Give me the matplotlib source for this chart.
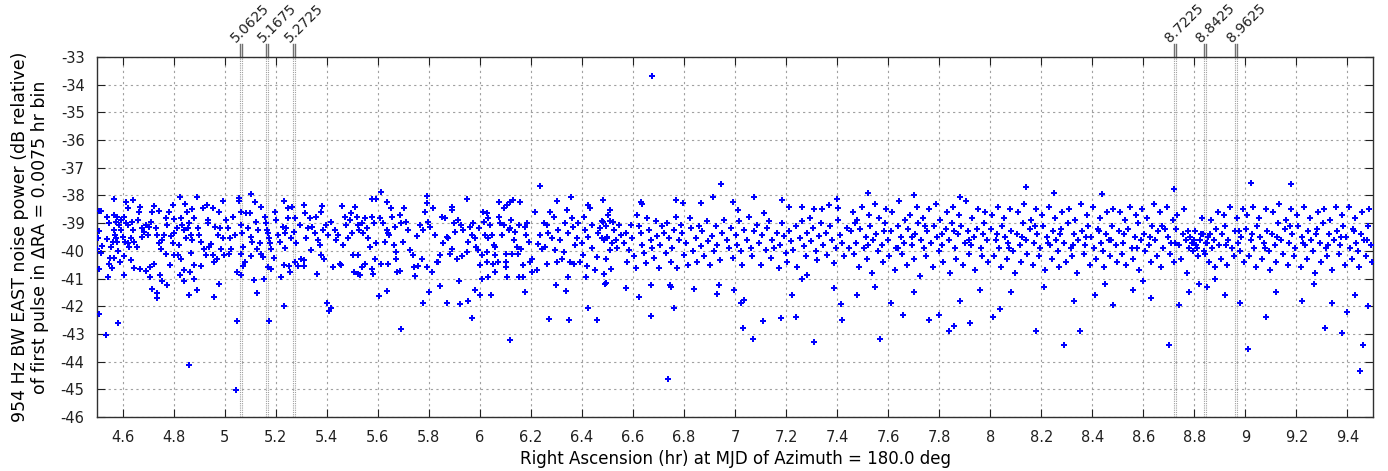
import matplotlib.pyplot as plt
import numpy as np

plt.rcParams['font.family'] = ['DejaVu Sans']
plt.rcParams['axes.unicode_minus'] = False

# marked RA values at the top of the plot (centre of a 0.0075 hr bin)
marker_ra = [5.0625, 5.1675, 5.2725, 8.7225, 8.8425, 8.9625]
bin_width = 0.0075

# (RA hr, dB) points, grouped by half-hour strip
seg_4_5 = [
    (4.567, -38.11), (4.612, -38.23), (4.643, -38.17), (4.620, -38.45), (4.669, -38.41),
    (4.722, -38.39), (4.741, -38.55), (4.796, -38.35), (4.825, -38.07), (4.844, -38.31),
    (4.890, -38.05), (4.871, -38.49), (4.914, -38.45), (4.931, -38.35), (4.953, -38.47),
    (4.995, -38.20), (4.491, -38.55), (4.507, -38.55), (4.515, -38.55), (4.541, -38.77),
    (4.546, -38.99), (4.565, -38.71), (4.507, -39.29), (4.504, -39.53), (4.541, -39.58),
    (4.521, -39.82), (4.554, -39.86), (4.499, -39.94), (4.515, -40.06), (4.552, -40.25),
    (4.567, -40.25), (4.548, -40.46), (4.557, -40.61), (4.509, -40.66), (4.545, -40.96),
    (4.567, -39.25), (4.570, -39.43), (4.574, -38.95), (4.561, -39.67), (4.580, -38.77),
    (4.593, -38.89), (4.587, -39.07), (4.593, -39.25), (4.607, -38.77), (4.614, -39.01),
    (4.620, -39.07), (4.600, -39.49), (4.609, -39.67), (4.620, -39.73), (4.633, -39.55),
    (4.626, -39.86), (4.607, -40.18), (4.604, -40.88), (4.591, -40.42), (4.633, -40.34),
    (4.646, -40.61), (4.646, -39.67), (4.639, -38.95), (4.643, -39.25), (4.580, -39.67),
    (4.583, -40.01), (4.574, -39.55), (4.659, -38.89), (4.665, -38.59), (4.678, -39.19),
    (4.685, -39.31), (4.691, -39.07), (4.698, -39.43), (4.678, -39.49), (4.711, -38.95),
    (4.704, -39.13), (4.717, -38.59), (4.669, -40.64), (4.691, -40.73), (4.708, -40.58),
    (4.724, -40.49), (4.717, -41.39), (4.735, -41.54), (4.737, -41.72), (4.708, -40.96),
    (4.656, -39.86), (4.731, -39.19), (4.737, -39.43), (4.744, -39.73), (4.750, -39.92),
    (4.756, -39.61), (4.763, -39.43), (4.770, -38.83), (4.776, -39.07), (4.783, -38.61),
    (4.789, -39.46), (4.803, -39.37), (4.796, -39.73), (4.770, -40.10), (4.787, -40.52),
    (4.774, -41.24), (4.756, -41.10), (4.745, -40.88), (4.801, -38.86), (4.803, -40.16),
    (4.816, -40.16), (4.814, -39.19), (4.822, -39.80), (4.829, -38.83), (4.835, -39.07),
    (4.842, -39.25), (4.848, -39.55), (4.857, -39.19), (4.861, -39.01), (4.868, -39.43),
    (4.874, -39.61), (4.881, -38.81), (4.831, -40.28), (4.839, -40.70), (4.826, -40.88),
    (4.842, -41.10), (4.859, -41.58), (4.861, -44.12), (4.879, -40.52), (4.866, -40.76),
    (4.881, -41.02), (4.868, -40.06), (4.852, -38.59), (4.894, -39.19), (4.900, -39.43),
    (4.907, -39.67), (4.892, -41.41), (4.909, -40.54), (4.920, -39.92), (4.926, -40.16),
    (4.933, -38.89), (4.939, -39.86), (4.946, -39.77), (4.953, -40.16), (4.959, -41.66),
    (4.962, -39.13), (4.970, -40.28), (4.978, -41.19), (4.979, -38.59), (4.983, -39.19),
    (4.987, -39.92), (4.993, -39.55), (4.997, -40.16), (4.974, -39.43), (4.957, -40.42),
    (4.935, -39.01), (4.508, -42.29), (4.584, -42.60), (4.537, -43.05),
]

seg_5_0 = [
    (5.043, -45.01), (5.048, -42.54), (5.174, -42.54), (5.127, -41.54), (5.115, -41.06),
    (5.154, -41.00), (5.233, -42.00), (5.403, -41.87), (5.408, -42.17), (5.418, -42.05),
    (5.222, -40.94), (5.050, -40.76), (5.065, -40.86), (5.363, -40.84), (5.055, -38.08),
    (5.058, -38.20), (5.105, -37.93), (5.120, -38.23), (5.144, -38.41), (5.233, -38.19),
    (5.248, -38.47), (5.265, -38.41), (5.311, -38.35), (5.382, -38.37), (5.376, -38.59),
    (5.460, -38.39), (5.497, -38.65), (5.007, -38.89), (5.013, -39.19), (5.020, -39.55),
    (5.024, -39.92), (5.016, -40.13), (5.033, -38.77), (5.039, -39.43), (5.063, -38.59),
    (5.065, -39.07), (5.068, -39.37), (5.072, -39.86), (5.063, -40.13), (5.078, -40.40),
    (5.072, -40.54), (5.085, -38.65), (5.098, -38.65), (5.092, -39.19), (5.102, -39.49),
    (5.107, -39.67), (5.105, -40.18), (5.124, -38.95), (5.131, -39.25), (5.137, -39.73),
    (5.128, -39.92), (5.144, -40.10), (5.150, -40.22), (5.157, -38.77), (5.163, -39.01),
    (5.167, -39.25), (5.170, -39.37), (5.173, -39.55), (5.176, -39.73), (5.170, -40.58),
    (5.180, -40.64), (5.183, -39.92), (5.193, -40.25), (5.196, -38.59), (5.203, -38.89),
    (5.209, -39.43), (5.216, -39.67), (5.229, -39.13), (5.235, -39.37), (5.235, -39.89),
    (5.242, -39.19), (5.233, -40.52), (5.251, -40.54), (5.255, -40.76), (5.248, -38.81),
    (5.261, -39.55), (5.272, -39.31), (5.277, -38.83), (5.281, -39.73), (5.275, -40.40),
    (5.288, -40.54), (5.298, -40.30), (5.311, -40.34), (5.311, -40.54), (5.294, -39.07),
    (5.314, -38.65), (5.320, -39.55), (5.327, -39.19), (5.333, -38.83), (5.337, -39.98),
    (5.342, -39.13), (5.353, -39.37), (5.359, -38.77), (5.366, -39.61), (5.373, -39.80),
    (5.376, -40.16), (5.390, -40.28), (5.386, -39.25), (5.399, -39.07), (5.405, -39.43),
    (5.418, -38.95), (5.425, -40.58), (5.431, -39.25), (5.438, -39.61), (5.444, -39.43),
    (5.451, -40.46), (5.458, -40.52), (5.464, -39.80), (5.471, -38.77), (5.477, -39.07),
    (5.484, -39.55), (5.490, -38.89), (5.499, -39.37), (5.503, -40.16), (5.507, -40.76),
]

seg_5_5 = [
    (5.692, -42.81), (5.605, -41.63), (5.638, -41.45), (5.779, -41.88), (5.801, -41.48),
    (5.846, -41.28), (5.873, -41.88), (5.920, -41.10), (5.921, -41.93), (5.953, -41.81),
    (5.969, -42.42), (5.982, -41.42), (6.001, -41.58), (6.010, -41.00), (5.613, -37.88),
    (5.592, -38.11), (5.576, -38.13), (5.637, -38.23), (5.795, -38.01), (5.795, -38.29),
    (5.949, -38.13), (5.890, -38.53), (5.893, -38.41), (5.511, -38.41), (5.518, -38.77),
    (5.521, -39.07), (5.527, -39.25), (5.537, -39.01), (5.544, -39.37), (5.550, -38.83),
    (5.557, -39.19), (5.563, -39.55), (5.570, -39.86), (5.524, -40.16), (5.530, -40.88),
    (5.521, -40.82), (5.550, -40.46), (5.540, -40.58), (5.576, -40.64), (5.582, -40.82),
    (5.576, -38.77), (5.587, -39.01), (5.589, -40.28), (5.595, -39.73), (5.609, -38.83),
    (5.613, -40.49), (5.622, -39.01), (5.628, -39.67), (5.635, -39.25), (5.639, -39.37),
    (5.642, -40.49), (5.646, -39.43), (5.652, -38.47), (5.655, -38.77), (5.663, -39.80),
    (5.666, -39.13), (5.673, -40.04), (5.673, -40.28), (5.677, -40.76), (5.686, -40.73),
    (5.686, -38.71), (5.692, -39.01), (5.699, -39.67), (5.703, -38.47), (5.712, -38.95),
    (5.719, -39.25), (5.726, -39.98), (5.739, -40.16), (5.744, -40.58), (5.746, -40.90),
    (5.753, -39.46), (5.759, -40.54), (5.765, -39.07), (5.772, -40.28), (5.779, -39.25),
    (5.785, -38.59), (5.792, -40.58), (5.798, -38.95), (5.804, -39.13), (5.811, -40.76),
    (5.817, -38.47), (5.825, -39.43), (5.831, -40.40), (5.838, -40.40), (5.844, -40.16),
    (5.851, -38.77), (5.857, -39.73), (5.864, -38.83), (5.870, -39.49), (5.877, -39.55),
    (5.883, -40.10), (5.890, -39.92), (5.897, -39.01), (5.903, -39.31), (5.909, -40.28),
    (5.916, -38.89), (5.927, -39.07), (5.932, -40.18), (5.936, -39.25), (5.949, -40.04),
    (5.955, -39.67), (5.962, -39.13), (5.969, -39.43), (5.975, -39.01), (5.982, -39.55),
    (5.984, -39.86), (5.992, -39.98), (5.995, -39.19), (6.001, -40.52), (6.007, -40.16),
    (6.014, -38.59), (6.018, -38.95),
]

seg_6_0 = [
    (6.234, -37.66), (6.119, -43.23), (6.272, -42.45), (6.348, -42.51), (6.461, -42.51),
    (6.424, -42.05), (6.043, -41.60), (6.178, -41.48), (6.299, -41.22), (6.338, -41.45),
    (6.492, -41.19), (6.031, -40.96), (6.106, -40.96), (6.154, -40.94), (6.171, -40.94),
    (6.344, -40.94), (6.416, -40.96), (6.076, -38.23), (6.093, -38.47), (6.106, -38.35),
    (6.119, -38.23), (6.132, -38.17), (6.158, -38.23), (6.302, -38.20), (6.357, -38.05),
    (6.481, -38.17), (6.424, -38.35), (6.511, -38.53), (6.027, -38.65), (6.034, -38.83),
    (6.040, -39.07), (6.021, -39.43), (6.031, -39.55), (6.047, -39.43), (6.054, -39.80),
    (6.060, -39.86), (6.027, -40.04), (6.027, -40.40), (6.050, -40.49), (6.071, -40.40),
    (6.060, -40.16), (6.058, -40.78), (6.074, -38.77), (6.080, -39.01), (6.087, -39.43),
    (6.093, -39.07), (6.102, -40.10), (6.104, -40.40), (6.104, -40.58), (6.113, -39.25),
    (6.119, -39.19), (6.122, -38.89), (6.128, -40.10), (6.135, -39.61), (6.139, -39.31),
    (6.145, -39.86), (6.149, -40.10), (6.152, -39.07), (6.161, -39.92), (6.169, -40.52),
    (6.176, -39.13), (6.181, -39.43), (6.184, -39.01), (6.191, -39.67), (6.197, -40.40),
    (6.204, -40.28), (6.206, -40.76), (6.217, -38.59), (6.224, -40.70), (6.227, -39.77),
    (6.236, -39.43), (6.243, -39.92), (6.250, -39.01), (6.256, -39.86), (6.262, -39.07),
    (6.262, -40.49), (6.269, -39.34), (6.276, -38.59), (6.282, -39.55), (6.289, -38.77),
    (6.295, -39.98), (6.302, -40.40), (6.308, -39.25), (6.315, -39.61), (6.321, -40.28),
    (6.328, -40.04), (6.334, -39.01), (6.341, -38.53), (6.347, -39.37), (6.354, -40.40),
    (6.361, -38.83), (6.367, -39.13), (6.370, -40.46), (6.373, -39.80), (6.380, -39.55),
    (6.386, -39.01), (6.393, -40.40), (6.399, -39.73), (6.406, -40.16), (6.410, -38.77),
    (6.412, -39.25), (6.419, -40.54), (6.425, -39.49), (6.432, -38.47), (6.438, -39.07),
    (6.441, -39.89), (6.451, -40.70), (6.458, -40.22), (6.464, -39.37), (6.471, -39.19),
    (6.477, -39.55), (6.484, -38.95), (6.488, -40.82), (6.493, -40.28), (6.497, -39.49),
    (6.503, -38.71), (6.510, -39.98), (6.514, -40.64), (6.517, -39.73), (6.523, -38.95),
]

seg_6_5 = [
    (6.675, -33.70), (6.737, -44.63), (6.671, -42.35), (6.946, -37.58), (6.624, -41.67),
    (6.571, -41.35), (6.493, -41.17), (6.672, -41.23), (6.745, -41.23), (6.750, -41.31),
    (6.839, -41.39), (6.931, -41.57), (6.937, -41.25), (6.996, -41.41), (7.022, -41.89),
    (7.035, -41.77), (6.761, -42.05), (7.225, -41.59), (7.388, -41.33), (7.414, -41.93),
    (7.264, -41.02), (7.281, -40.87), (7.030, -42.80), (7.070, -43.20), (7.110, -42.55),
    (7.180, -42.43), (7.240, -42.40), (7.310, -43.30), (7.420, -42.50),
    (6.484, -38.16), (6.630, -38.22), (6.637, -38.30), (6.768, -38.16), (6.798, -38.28),
    (6.868, -38.28), (6.915, -38.04), (6.993, -38.22), (7.012, -38.54), (7.075, -38.04),
    (7.186, -38.18), (7.212, -38.43), (7.264, -38.40), (7.310, -38.49), (7.342, -38.48),
    (7.370, -38.34), (7.401, -38.12), (7.404, -38.46),
    (6.480, -38.94), (6.493, -39.12), (6.499, -39.54), (6.487, -39.60), (6.512, -38.94),
    (6.525, -39.24), (6.532, -39.60), (6.539, -39.90), (6.545, -39.06), (6.552, -39.42),
    (6.565, -39.72), (6.571, -39.36), (6.575, -40.39), (6.584, -39.96), (6.591, -39.06),
    (6.597, -39.54), (6.604, -40.20), (6.611, -40.63), (6.617, -38.70), (6.624, -39.12),
    (6.630, -39.36), (6.637, -39.78), (6.643, -40.08), (6.650, -40.45), (6.656, -38.82),
    (6.663, -39.24), (6.669, -39.60), (6.676, -39.90), (6.682, -40.27), (6.689, -38.94),
    (6.695, -39.48), (6.702, -40.63), (6.708, -39.78), (6.715, -39.12), (6.722, -39.36),
    (6.728, -40.08), (6.735, -39.00), (6.741, -39.54), (6.748, -40.39), (6.754, -39.90),
    (6.761, -39.24), (6.768, -38.76), (6.774, -40.63), (6.781, -39.60), (6.787, -39.06),
    (6.794, -39.36), (6.800, -40.14), (6.807, -39.72), (6.816, -40.51), (6.824, -38.82),
    (6.829, -39.18), (6.837, -40.02), (6.846, -39.54), (6.853, -40.39), (6.859, -39.12),
    (6.866, -39.84), (6.872, -39.30), (6.879, -40.20), (6.889, -38.94), (6.894, -39.66),
    (6.902, -40.51), (6.911, -39.48), (6.918, -40.02), (6.924, -39.12), (6.931, -39.78),
    (6.941, -40.33), (6.950, -39.36), (6.957, -38.88), (6.967, -39.60), (6.976, -39.90),
    (6.983, -39.18), (6.993, -40.27), (7.002, -39.42), (7.009, -39.78), (7.015, -38.94),
    (7.022, -40.02), (7.029, -40.51), (7.035, -39.24), (7.046, -39.60), (7.055, -38.76),
    (7.061, -39.90), (7.068, -40.20), (7.075, -39.30), (7.085, -39.06), (7.094, -39.72),
    (7.101, -40.51), (7.107, -39.42), (7.114, -38.64), (7.120, -39.96), (7.127, -39.18),
    (7.133, -38.94), (7.140, -40.27), (7.146, -39.60), (7.153, -39.90), (7.163, -39.36),
    (7.172, -40.63), (7.178, -39.78), (7.186, -39.00), (7.192, -39.48), (7.199, -40.08),
    (7.205, -40.39), (7.212, -39.30), (7.218, -39.66), (7.229, -39.96), (7.238, -39.12),
    (7.244, -40.57), (7.255, -39.54), (7.264, -38.94), (7.270, -39.84), (7.277, -40.20),
    (7.284, -39.36), (7.294, -38.82), (7.299, -39.66), (7.307, -39.18), (7.316, -40.02),
    (7.323, -40.33), (7.329, -39.48), (7.336, -39.00), (7.346, -39.78), (7.355, -39.36),
    (7.362, -40.14), (7.372, -39.12), (7.381, -39.60), (7.388, -40.45), (7.395, -39.90),
    (7.404, -38.88), (7.412, -39.42), (7.421, -39.72), (7.427, -40.20), (7.438, -39.18),
    (7.448, -39.90),
]

seg_7_5 = [
    (7.455, -39.3), (7.462, -38.6), (7.466, -40.1), (7.474, -39.7), (7.479, -38.9),
    (7.487, -40.6), (7.491, -39.2), (7.499, -38.4), (7.504, -39.9), (7.512, -39.5),
    (7.516, -40.3), (7.525, -38.7), (7.529, -39.1), (7.537, -40.8), (7.541, -39.6),
    (7.550, -38.3), (7.554, -39.4), (7.562, -40.0), (7.566, -38.8), (7.575, -39.8),
    (7.579, -40.4), (7.587, -39.0), (7.591, -38.5), (7.600, -39.6), (7.604, -40.2),
    (7.612, -39.3), (7.617, -38.6), (7.625, -40.7), (7.629, -39.9), (7.637, -39.1),
    (7.642, -38.2), (7.650, -39.5), (7.654, -40.1), (7.662, -39.7), (7.667, -38.9),
    (7.675, -40.5), (7.679, -39.2), (7.687, -38.7), (7.692, -39.8), (7.700, -40.3),
    (7.704, -39.4), (7.712, -38.4), (7.717, -39.0), (7.725, -40.9), (7.729, -39.6),
    (7.737, -38.8), (7.742, -39.9), (7.750, -40.2), (7.754, -39.3), (7.762, -38.5),
    (7.767, -39.7), (7.775, -40.6), (7.779, -39.1), (7.787, -38.3), (7.792, -39.5),
    (7.800, -40.0), (7.804, -38.9), (7.812, -39.8), (7.817, -40.4), (7.825, -39.2),
    (7.829, -38.6), (7.837, -39.6), (7.842, -40.8), (7.850, -39.0), (7.854, -38.4),
    (7.862, -39.9), (7.867, -40.3), (7.875, -39.4), (7.879, -38.7), (7.887, -39.1),
    (7.892, -40.5), (7.900, -39.7), (7.904, -38.2), (7.912, -39.3), (7.917, -40.1),
    (7.925, -39.8), (7.929, -38.8), (7.937, -39.5), (7.942, -40.7), (7.950, -39.2),
    (7.954, -38.5), (7.962, -39.9), (7.967, -40.2), (7.975, -39.0), (7.979, -38.6),
    (7.987, -39.6), (7.992, -40.4), (7.470, -39.0), (7.520, -39.8), (7.585, -39.3),
    (7.640, -39.9), (7.695, -39.5), (7.745, -39.1), (7.810, -39.4), (7.860, -39.3),
    (7.915, -39.6), (7.970, -39.4),
    (7.480, -41.6), (7.550, -41.3), (7.570, -43.2), (7.610, -41.9), (7.660, -42.3),
    (7.700, -41.5), (7.760, -42.5), (7.800, -42.3), (7.840, -42.9), (7.860, -42.7),
    (7.880, -41.8), (7.920, -42.6), (7.960, -41.4), (7.520, -37.9), (7.700, -38.0),
    (7.880, -38.05),
]

seg_8_0 = [
    (8.004, -39.2), (8.008, -38.7), (8.016, -40.2), (8.021, -39.6), (8.029, -38.4),
    (8.033, -39.9), (8.041, -40.6), (8.046, -39.1), (8.054, -38.8), (8.058, -39.5),
    (8.066, -40.3), (8.071, -39.7), (8.079, -38.5), (8.083, -39.3), (8.091, -40.0),
    (8.096, -40.8), (8.104, -39.4), (8.108, -38.6), (8.116, -39.8), (8.121, -40.4),
    (8.129, -39.0), (8.133, -38.3), (8.141, -39.6), (8.146, -40.1), (8.154, -39.2),
    (8.158, -38.9), (8.166, -40.5), (8.171, -39.7), (8.179, -38.5), (8.183, -39.4),
    (8.191, -40.2), (8.196, -39.9), (8.204, -38.7), (8.208, -39.1), (8.216, -40.7),
    (8.221, -39.5), (8.229, -38.4), (8.233, -39.8), (8.241, -40.3), (8.246, -39.3),
    (8.254, -38.8), (8.258, -39.6), (8.266, -40.0), (8.271, -40.6), (8.279, -39.2),
    (8.283, -38.6), (8.291, -39.7), (8.296, -40.4), (8.304, -39.0), (8.308, -38.5),
    (8.316, -39.9), (8.321, -40.2), (8.329, -39.4), (8.333, -38.9), (8.341, -40.8),
    (8.346, -39.6), (8.354, -38.3), (8.358, -39.3), (8.366, -40.1), (8.371, -39.8),
    (8.379, -38.7), (8.383, -39.1), (8.391, -40.5), (8.396, -39.5), (8.404, -38.4),
    (8.408, -39.9), (8.416, -40.3), (8.421, -39.2), (8.429, -38.8), (8.433, -39.7),
    (8.441, -40.0), (8.446, -40.6), (8.454, -39.4), (8.458, -38.6), (8.466, -39.6),
    (8.471, -40.2), (8.479, -39.1), (8.483, -38.5), (8.491, -39.8), (8.496, -40.4),
    (8.025, -39.4), (8.075, -39.9), (8.125, -39.5), (8.175, -39.1), (8.225, -39.7),
    (8.275, -39.4), (8.325, -39.8), (8.375, -39.5), (8.425, -39.3), (8.475, -39.6),
    (8.040, -42.1), (8.010, -42.4), (8.080, -41.5), (8.140, -37.7), (8.180, -42.9),
    (8.210, -41.3), (8.290, -43.4), (8.330, -41.8), (8.350, -42.9), (8.410, -41.6),
    (8.480, -41.95), (8.450, -41.2), (8.250, -37.9), (8.440, -37.95),
]

seg_8_5 = [
    (8.504, -39.3), (8.508, -38.6), (8.516, -40.1), (8.521, -39.7), (8.529, -38.9),
    (8.533, -40.5), (8.541, -39.2), (8.546, -38.4), (8.554, -39.9), (8.558, -40.3),
    (8.566, -39.5), (8.571, -38.7), (8.579, -39.0), (8.583, -40.7), (8.591, -39.6),
    (8.596, -38.5), (8.604, -39.4), (8.608, -40.0), (8.616, -38.8), (8.621, -39.8),
    (8.629, -40.4), (8.633, -39.1), (8.641, -38.3), (8.646, -39.6), (8.654, -40.2),
    (8.658, -39.3), (8.666, -38.6), (8.671, -40.6), (8.679, -39.9), (8.683, -39.2),
    (8.691, -38.4), (8.696, -39.5), (8.704, -40.1), (8.708, -39.7), (8.716, -38.9),
    (8.721, -40.4), (8.729, -39.2), (8.733, -38.7), (8.741, -39.8), (8.746, -40.3),
    (8.754, -39.4), (8.758, -38.5), (8.766, -39.6), (8.771, -40.8), (8.779, -39.9),
    (8.783, -39.5), (8.791, -39.7), (8.796, -40.0), (8.804, -39.3), (8.808, -39.8),
    (8.816, -40.2), (8.821, -39.6), (8.829, -38.8), (8.833, -39.4), (8.841, -40.1),
    (8.846, -39.7), (8.854, -39.5), (8.858, -40.4), (8.866, -38.9), (8.871, -39.9),
    (8.879, -40.6), (8.883, -39.2), (8.891, -38.6), (8.896, -39.8), (8.904, -40.3),
    (8.908, -39.4), (8.916, -38.7), (8.921, -39.1), (8.929, -40.5), (8.933, -39.6),
    (8.941, -38.4), (8.946, -39.9), (8.954, -40.2), (8.958, -39.3), (8.966, -38.8),
    (8.971, -39.7), (8.979, -40.0), (8.983, -39.5), (8.991, -38.5), (8.996, -40.4),
    (8.525, -39.4), (8.575, -39.9), (8.625, -39.5), (8.675, -39.1), (8.725, -39.7),
    (8.775, -39.3), (8.800, -39.6), (8.812, -39.9), (8.825, -39.4), (8.838, -40.0),
    (8.850, -39.7), (8.862, -39.4), (8.875, -39.6), (8.925, -39.8), (8.975, -39.3),
    (8.700, -43.4), (8.740, -41.95), (8.720, -37.75), (8.560, -41.4), (8.630, -41.7),
    (8.780, -41.5), (8.850, -41.3), (8.920, -41.6), (8.880, -41.0), (8.980, -41.9),
    (8.600, -41.1), (8.820, -41.2),
]

seg_9_0 = [
    (9.004, -39.2), (9.008, -38.7), (9.016, -40.2), (9.021, -39.6), (9.029, -38.4),
    (9.033, -39.9), (9.041, -40.6), (9.046, -39.1), (9.054, -38.8), (9.058, -39.5),
    (9.066, -40.3), (9.071, -39.7), (9.079, -38.5), (9.083, -39.3), (9.091, -40.0),
    (9.096, -40.7), (9.104, -39.4), (9.108, -38.6), (9.116, -39.8), (9.121, -40.4),
    (9.129, -39.0), (9.133, -38.3), (9.141, -39.6), (9.146, -40.1), (9.154, -39.2),
    (9.158, -38.9), (9.166, -40.5), (9.171, -39.7), (9.179, -38.5), (9.183, -39.4),
    (9.191, -40.2), (9.196, -39.9), (9.204, -38.7), (9.208, -39.1), (9.216, -40.6),
    (9.221, -39.5), (9.229, -38.4), (9.233, -39.8), (9.241, -40.3), (9.246, -39.3),
    (9.254, -38.8), (9.258, -39.6), (9.266, -40.0), (9.271, -40.8), (9.279, -39.2),
    (9.283, -38.6), (9.291, -39.7), (9.296, -40.4), (9.304, -39.0), (9.308, -38.5),
    (9.316, -39.9), (9.321, -40.2), (9.329, -39.4), (9.333, -38.9), (9.341, -40.7),
    (9.346, -39.6), (9.354, -38.4), (9.358, -39.3), (9.366, -40.1), (9.371, -39.8),
    (9.379, -38.7), (9.383, -39.1), (9.391, -40.5), (9.396, -39.5), (9.404, -38.4),
    (9.408, -39.9), (9.416, -40.3), (9.421, -39.2), (9.429, -38.8), (9.433, -39.7),
    (9.441, -40.0), (9.446, -40.6), (9.454, -39.4), (9.458, -38.6), (9.466, -39.6),
    (9.471, -40.2), (9.479, -39.1), (9.483, -38.5), (9.491, -39.8), (9.496, -40.4),
    (9.025, -39.4), (9.075, -39.9), (9.125, -39.5), (9.175, -39.1), (9.225, -39.7),
    (9.275, -39.4), (9.325, -39.8), (9.375, -39.5), (9.425, -39.3), (9.475, -39.6),
    (9.010, -43.55), (9.020, -37.55), (9.080, -42.4), (9.180, -37.6), (9.120, -41.5),
    (9.220, -41.8), (9.310, -42.8), (9.340, -41.9), (9.380, -42.95), (9.400, -42.2),
    (9.430, -41.6), (9.450, -44.35), (9.460, -43.4), (9.480, -42.0), (9.270, -41.2),
]

pts = seg_4_5 + seg_5_0 + seg_5_5 + seg_6_0 + seg_6_5 + seg_7_5 + seg_8_0 + seg_8_5 + seg_9_0
ra = np.array([p[0] for p in pts])
db = np.array([p[1] for p in pts])

fig = plt.figure(figsize=(13.88, 4.71), dpi=100)
ax = fig.add_axes([97 / 1388, 1 - 417 / 471, (1373 - 97) / 1388, (417 - 57) / 471])

ax.plot(ra, db, 'P', color='#0000ff', ms=4.3, mew=0, zorder=3)

# marker bins: two dotted lines at the bin edges, short bars and labels above the frame
for m in marker_ra:
    for edge in (m - bin_width / 2, m + bin_width / 2):
        ax.axvline(edge, color='#a0a0a0', lw=0.8, ls=(0, (1, 1)), zorder=1)
        ax.plot([edge, edge], [1.0, 1.035], color='#707070', lw=1.0,
                transform=ax.get_xaxis_transform(), clip_on=False)
    ax.text(m - 0.008, 1.034, '%.4f' % m, rotation=45, rotation_mode='anchor',
            ha='left', va='bottom', fontsize=10, color='#202020',
            transform=ax.get_xaxis_transform())

ax.set_xlim(4.5, 9.5)
ax.set_ylim(-46, -33)
xt = np.round(np.arange(4.6, 9.41, 0.2), 1)
ax.set_xticks(xt)
ax.set_xticklabels(['%g' % v for v in xt])
ax.set_yticks(np.arange(-46, -32))
ax.set_yticklabels(['%d' % v for v in np.arange(-46, -32)])

ax.grid(True, color='#a0a0a0', lw=0.8, ls=(0, (2, 3)))
ax.set_axisbelow(True)
ax.tick_params(direction='in', top=True, right=True, length=6, width=0.8,
               labelsize=10.5, colors='#202020')
ax.tick_params(axis='x', pad=9)
ax.tick_params(axis='y', pad=9)
for s in ax.spines.values():
    s.set_color('#303030')
    s.set_linewidth(1.0)

ax.set_xlabel('Right Ascension (hr) at MJD of Azimuth = 180.0 deg', fontsize=12,
              labelpad=4)
ax.set_ylabel('954 Hz BW EAST noise power (dB relative)\nof first pulse in \u0394RA = 0.0075 hr bin',
              fontsize=12.5, labelpad=8)

fig.savefig('out.png', dpi=100)
